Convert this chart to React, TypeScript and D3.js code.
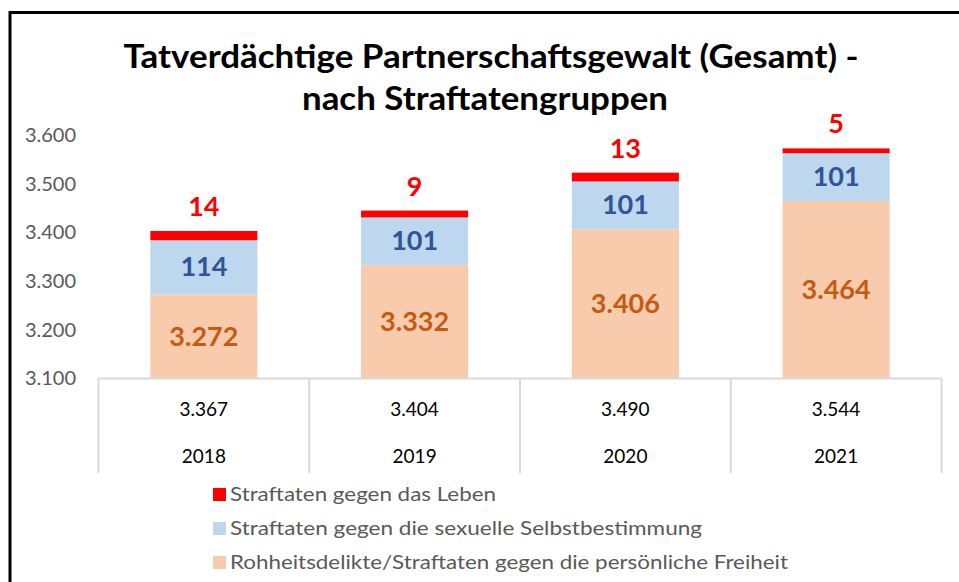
import React from "react";
import * as d3 from "d3";

const years = ["2018", "2019", "2020", "2021"];
const totals = [3367, 3404, 3490, 3544];
const rohheit = [3272, 3332, 3406, 3464];
const sexuell = [114, 101, 101, 101];
const leben = [14, 9, 13, 5];
const yTicks = [3100, 3200, 3300, 3400, 3500, 3600];
const seriesNames = [
  "Straftaten gegen das Leben",
  "Straftaten gegen die sexuelle Selbstbestimmung",
  "Rohheitsdelikte/Straftaten gegen die persönliche Freiheit",
];
const titleLines = ["Tatverdächtige Partnerschaftsgewalt (Gesamt) -", "nach Straftatengruppen"];

const W = 959;
const H = 582;
const FONT = "Lato, 'Open Sans', sans-serif";

const fmt = (v: number) => {
  const s = Math.round(v).toString();
  return s.length > 3 ? s.slice(0, s.length - 3) + "." + s.slice(-3) : s;
};

export default function App() {
  const x = d3.scaleBand<string>().domain(years).range([98.5, 941.5]).paddingInner(0).paddingOuter(0);
  const y = d3.scaleLinear().domain([3100, 3600]).range([378, 135]);
  const barW = x.bandwidth() * 0.508;

  const stackData = years.map((yr, i) => ({ year: yr, roh: rohheit[i], sex: sexuell[i], leb: leben[i] }));
  const keys = ["roh", "sex", "leb"];
  const stack = d3.stack<any>().keys(keys);
  const series = stack(stackData);
  const colors: Record<string, string> = { roh: "#F8CBAD", sex: "#BDD7EE", leb: "#FF0000" };
  const labelColors: Record<string, string> = { roh: "#C55A11", sex: "#2F5597", leb: "#FF0000" };
  const legendColors = ["#FF0000", "#BDD7EE", "#F8CBAD"];
  const legendLengths = [266, 472, 558];

  const yClamp = (v: number) => y(Math.max(v, 3100));

  return (
    <svg width={W} height={H} style={{ position: "absolute", left: 0, top: 0, background: "#fff" }} fontFamily={FONT}>
      <rect x={0} y={0} width={W} height={H} fill="#fff" />
      <path d={`M10,${H} V12.5 H${W}`} fill="none" stroke="#000" strokeWidth={3} />

      {/* title */}
      <text x={491} y={68} textAnchor="middle" fontSize={33} fontWeight={700} fill="#000" textLength={735} lengthAdjust="spacingAndGlyphs">
        {titleLines[0]}
      </text>
      <text x={485} y={110} textAnchor="middle" fontSize={33} fontWeight={700} fill="#000" textLength={366} lengthAdjust="spacingAndGlyphs">
        {titleLines[1]}
      </text>

      {/* y axis labels */}
      {yTicks.map((t) => (
        <text key={t} x={76} y={y(t)} dy="0.36em" textAnchor="end" fontSize={20} fill="#595959">
          {fmt(t)}
        </text>
      ))}

      {/* bars */}
      {series.map((s) => (
        <g key={s.key}>
          {s.map((d, i) => {
            const cx = (x(years[i]) as number) + x.bandwidth() / 2;
            const y0 = yClamp(d[0]);
            const y1 = yClamp(d[1]);
            const isTop = s.key === "leb";
            return (
              <rect
                key={i}
                x={cx - barW / 2}
                y={isTop ? y1 - 1.2 : y1}
                width={barW}
                height={isTop ? y0 - y1 + 2.4 : y0 - y1}
                fill={colors[s.key]}
              />
            );
          })}
        </g>
      ))}

      {/* bar labels */}
      {series.map((s) => (
        <g key={"l" + s.key}>
          {s.map((d, i) => {
            const cx = (x(years[i]) as number) + x.bandwidth() / 2;
            const y0 = yClamp(d[0]);
            const y1 = yClamp(d[1]);
            const val = d[1] - d[0];
            const ly = s.key === "leb" ? y1 - 26 : (y0 + y1) / 2;
            return (
              <text key={i} x={cx} y={ly} dy="0.36em" textAnchor="middle" fontSize={27} fontWeight={700} fill={labelColors[s.key]}>
                {fmt(val)}
              </text>
            );
          })}
        </g>
      ))}

      {/* category table */}
      <line x1={98.5} x2={941.5} y1={378.5} y2={378.5} stroke="#D9D9D9" strokeWidth={2} />
      {[...years.map((yr) => x(yr) as number), 941.5].map((xx, i) => (
        <line key={i} x1={xx} x2={xx} y1={378} y2={473} stroke="#D9D9D9" strokeWidth={2} />
      ))}
      {years.map((yr, i) => {
        const cx = (x(yr) as number) + x.bandwidth() / 2;
        return (
          <g key={yr}>
            <text x={cx} y={409} dy="0.36em" textAnchor="middle" fontSize={19} fill="#000">
              {fmt(totals[i])}
            </text>
            <text x={cx} y={456} dy="0.36em" textAnchor="middle" fontSize={19} fill="#000">
              {yr}
            </text>
          </g>
        );
      })}

      {/* legend */}
      {seriesNames.map((n, i) => (
        <g key={n}>
          <rect x={213} y={488 + i * 34} width={13} height={13} fill={legendColors[i]} />
          <text x={230} y={494.5 + i * 34} dy="0.36em" fontSize={19} fill="#595959" textLength={legendLengths[i]} lengthAdjust="spacingAndGlyphs">
            {n}
          </text>
        </g>
      ))}
    </svg>
  );
}
